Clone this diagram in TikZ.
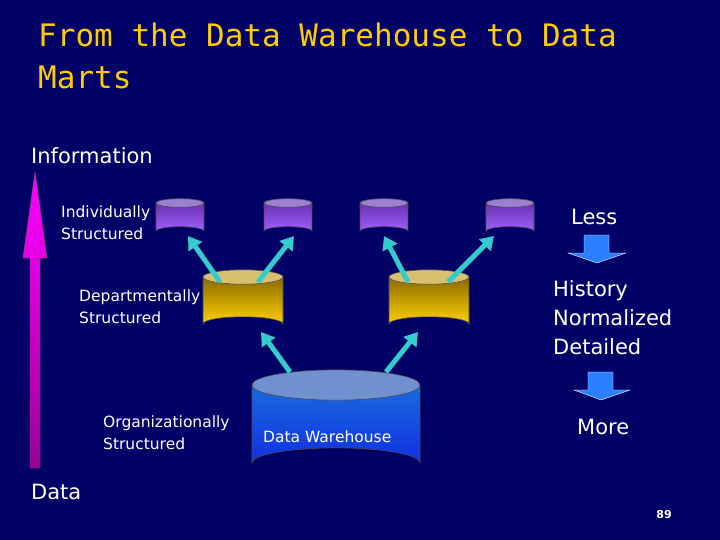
\documentclass[tikz,border=0pt]{standalone}
\usepackage{fontspec}
\setmainfont{DejaVu Sans}
\newfontfamily\titlefont{DejaVu Sans Mono}
\usetikzlibrary{arrows.meta}
\definecolor{bg}{HTML}{000066}
\definecolor{ttl}{HTML}{FFCC00}
\definecolor{cy}{HTML}{33CCCC}
\definecolor{pa}{HTML}{6A2FB0}
\definecolor{pb}{HTML}{A060FF}
\definecolor{pc}{HTML}{9A80D0}
\definecolor{ya}{HTML}{8A6A00}
\definecolor{yb}{HTML}{FFD000}
\definecolor{yc}{HTML}{D8C070}
\definecolor{ba}{HTML}{1A6AE0}
\definecolor{bb}{HTML}{1030E0}
\definecolor{bc}{HTML}{7090D0}
\definecolor{ar}{HTML}{2A80FF}
\newcommand{\mycyl}[8]{% name, cx, top, w, h, top col, bot col, lid col
  \pgfmathsetmacro{\rx}{#4/2}\pgfmathsetmacro{\ry}{#4*0.09}
  \shade[top color=#6,bottom color=#7,draw=black!70,line width=0.6pt]
    (#2-\rx,#3) -- (#2-\rx,#3+#5) arc[start angle=180,end angle=360,x radius=\rx,y radius=\ry] -- (#2+\rx,#3) -- cycle;
  \fill[#8,draw=black!70,line width=0.6pt] (#2,#3) ellipse[x radius=\rx,y radius=\ry];
  \coordinate (#1) at (#2,#3+#5/2);
}
\tikzset{link/.style={cy,line width=5pt,-{Triangle[length=13pt,width=16pt]}},
  txt/.style={white,font=\fontsize{15.5}{22}\selectfont,align=left,anchor=west,inner sep=0},
  bigtxt/.style={white,font=\fontsize{21}{25}\selectfont,align=left,anchor=west,inner sep=0}}
\begin{document}
\begin{tikzpicture}[x=1pt,y=-1pt]
\fill[bg] (0,0) rectangle (720,540);
\useasboundingbox (0,0) rectangle (720,540);
\node[ttl,anchor=west,align=left,font=\titlefont\fontsize{31}{42}\selectfont,inner sep=0] (title) at (38,56) {From the Data Warehouse to Data\\Marts};
\node[bigtxt] (info) at (31,156) {Information};
\node[bigtxt] (data) at (31,492) {Data};
% magenta arrow
\shade[top color=magenta,bottom color=magenta!60!black,draw=magenta!50!black]
 (30,468) -- (30,258) -- (23,258) -- (35,172) -- (47,258) -- (40,258) -- (40,468) -- cycle;
\node[txt] (ind) at (61,223) {Individually\\Structured};
\node[txt] (dep) at (79,307) {Departmentally\\Structured};
\node[txt] (org) at (103,433) {Organizationally\\Structured};
\mycyl{p1}{180}{203}{48}{28}{pa}{pb}{pc}
\mycyl{p2}{288}{203}{48}{28}{pa}{pb}{pc}
\mycyl{p3}{384}{203}{48}{28}{pa}{pb}{pc}
\mycyl{p4}{510}{203}{48}{28}{pa}{pb}{pc}
\mycyl{y1}{243}{277}{80}{47}{ya}{yb}{yc}
\mycyl{y2}{429}{277}{80}{47}{ya}{yb}{yc}
\mycyl{dw}{336}{385}{168}{78}{ba}{bb}{bc}
\node[txt] (dwl) at (263,437) {Data Warehouse};
\draw[link] (220,282) -- (188,236);
\draw[link] (258,282) -- (294,236);
\draw[link] (408,282) -- (384,236);
\draw[link] (448,282) -- (494,236);
\draw[link] (290,372) -- (261,332);
\draw[link] (386,372) -- (418,332);
\node[bigtxt] (less) at (571,217) {Less};
\node[bigtxt,align=left,font=\fontsize{21}{29}\selectfont] (hist) at (553,318) {History\\Normalized\\Detailed};
\node[bigtxt] (more) at (577,427) {More};
\fill[ar,draw=white,line width=0.4pt] (584,235) -- (609,235) -- (609,253) -- (626,253) -- (597,263) -- (568,253) -- (584,253) -- cycle;
\fill[ar,draw=white,line width=0.4pt] (588,372) -- (613,372) -- (613,390) -- (630,390) -- (601,400) -- (574,390) -- (588,390) -- cycle;
\node[white,font=\fontsize{11}{12}\selectfont\bfseries] (pg) at (664,514) {89};
\end{tikzpicture}
\end{document}
